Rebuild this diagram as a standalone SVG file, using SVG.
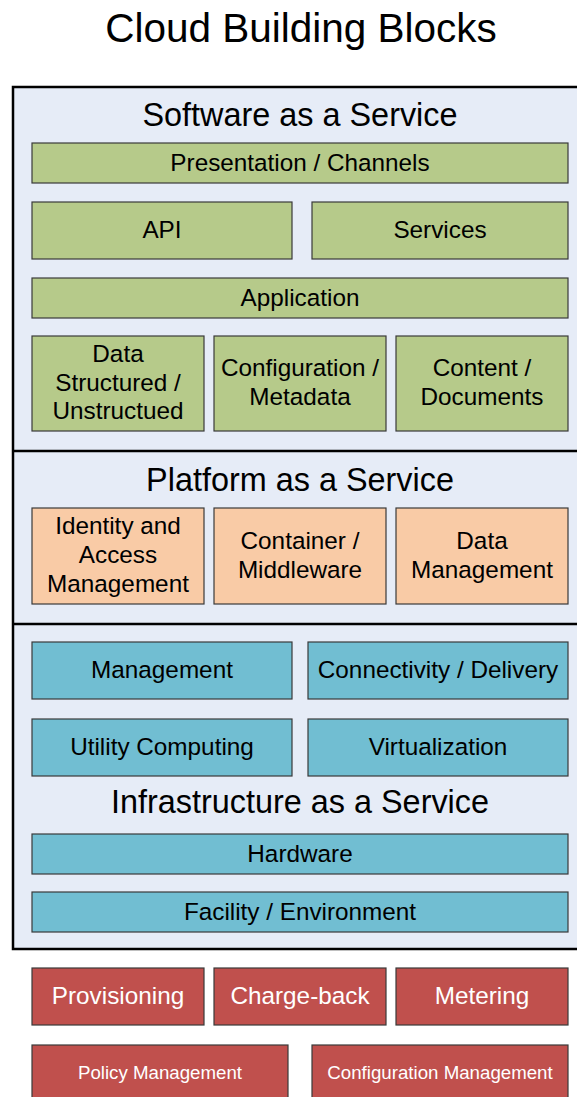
<svg xmlns="http://www.w3.org/2000/svg" width="577" height="1097" viewBox="0 0 577 1097">
<style>
text{font-family:"Liberation Sans",Arial,sans-serif;text-anchor:middle;fill:#000}
.t{font-size:40.5px}
.h{font-size:32.4px}
.b{font-size:24.3px}
.w{fill:#fff}
.s{font-size:18.7px}
.g{fill:#B6CA8A;stroke:#3a3a3a;stroke-width:1.2}
.o{fill:#F9CBA6;stroke:#3a3a3a;stroke-width:1.2}
.c{fill:#71BED2;stroke:#3a3a3a;stroke-width:1.2}
.r{fill:#C0504D;stroke:#3a3a3a;stroke-width:1.2}
</style>
<rect width="577" height="1097" fill="#fff"/>
<text class="t" x="301" y="42">Cloud Building Blocks</text>
<g id="container">
<rect x="13" y="87" width="580" height="862" fill="#E6ECF7" stroke="#000" stroke-width="2.5"/>
<line x1="13" y1="451" x2="577" y2="451" stroke="#000" stroke-width="2.5"/>
<line x1="13" y1="624" x2="577" y2="624" stroke="#000" stroke-width="2.5"/>
<text class="h" x="300" y="126">Software as a Service</text>
<text class="h" x="300" y="491">Platform as a Service</text>
<text class="h" x="300" y="813">Infrastructure as a Service</text>
</g>
<g id="presentation"><rect class="g" x="32" y="143" width="536" height="40"/><text class="b" x="300" y="171">Presentation / Channels</text></g>
<g id="api"><rect class="g" x="32" y="202" width="260" height="57"/><text class="b" x="162" y="238">API</text></g>
<g id="services"><rect class="g" x="312" y="202" width="256" height="57"/><text class="b" x="440" y="238">Services</text></g>
<g id="application"><rect class="g" x="32" y="278" width="536" height="40"/><text class="b" x="300" y="306">Application</text></g>
<g id="data"><rect class="g" x="32" y="336" width="172" height="95"/><text class="b" x="118" y="362">Data</text><text class="b" x="118" y="391">Structured /</text><text class="b" x="118" y="419">Unstructued</text></g>
<g id="configuration"><rect class="g" x="214" y="336" width="172" height="95"/><text class="b" x="300" y="376">Configuration /</text><text class="b" x="300" y="405">Metadata</text></g>
<g id="content"><rect class="g" x="396" y="336" width="172" height="95"/><text class="b" x="482" y="376">Content /</text><text class="b" x="482" y="405">Documents</text></g>
<g id="identity"><rect class="o" x="32" y="508" width="172" height="96"/><text class="b" x="118" y="534">Identity and</text><text class="b" x="118" y="563">Access</text><text class="b" x="118" y="592">Management</text></g>
<g id="container-mw"><rect class="o" x="214" y="508" width="172" height="96"/><text class="b" x="300" y="549">Container /</text><text class="b" x="300" y="578">Middleware</text></g>
<g id="data-management"><rect class="o" x="396" y="508" width="172" height="96"/><text class="b" x="482" y="549">Data</text><text class="b" x="482" y="578">Management</text></g>
<g id="management"><rect class="c" x="32" y="642" width="260" height="57"/><text class="b" x="162" y="678">Management</text></g>
<g id="connectivity"><rect class="c" x="308" y="642" width="260" height="57"/><text class="b" x="438" y="678">Connectivity / Delivery</text></g>
<g id="utility"><rect class="c" x="32" y="719" width="260" height="57"/><text class="b" x="162" y="755">Utility Computing</text></g>
<g id="virtualization"><rect class="c" x="308" y="719" width="260" height="57"/><text class="b" x="438" y="755">Virtualization</text></g>
<g id="hardware"><rect class="c" x="32" y="834" width="536" height="40"/><text class="b" x="300" y="862">Hardware</text></g>
<g id="facility"><rect class="c" x="32" y="892" width="536" height="40"/><text class="b" x="300" y="920">Facility / Environment</text></g>
<g id="provisioning"><rect class="r" x="32" y="968" width="172" height="57"/><text class="b w" x="118" y="1004">Provisioning</text></g>
<g id="chargeback"><rect class="r" x="214" y="968" width="172" height="57"/><text class="b w" x="300" y="1004">Charge-back</text></g>
<g id="metering"><rect class="r" x="396" y="968" width="172" height="57"/><text class="b w" x="482" y="1004">Metering</text></g>
<g id="policy"><rect class="r" x="32" y="1045" width="256" height="60"/><text class="s w" x="160" y="1079">Policy Management</text></g>
<g id="config-management"><rect class="r" x="312" y="1045" width="256" height="60"/><text class="s w" x="440" y="1079">Configuration Management</text></g>
<g id="connectors"></g>
</svg>
